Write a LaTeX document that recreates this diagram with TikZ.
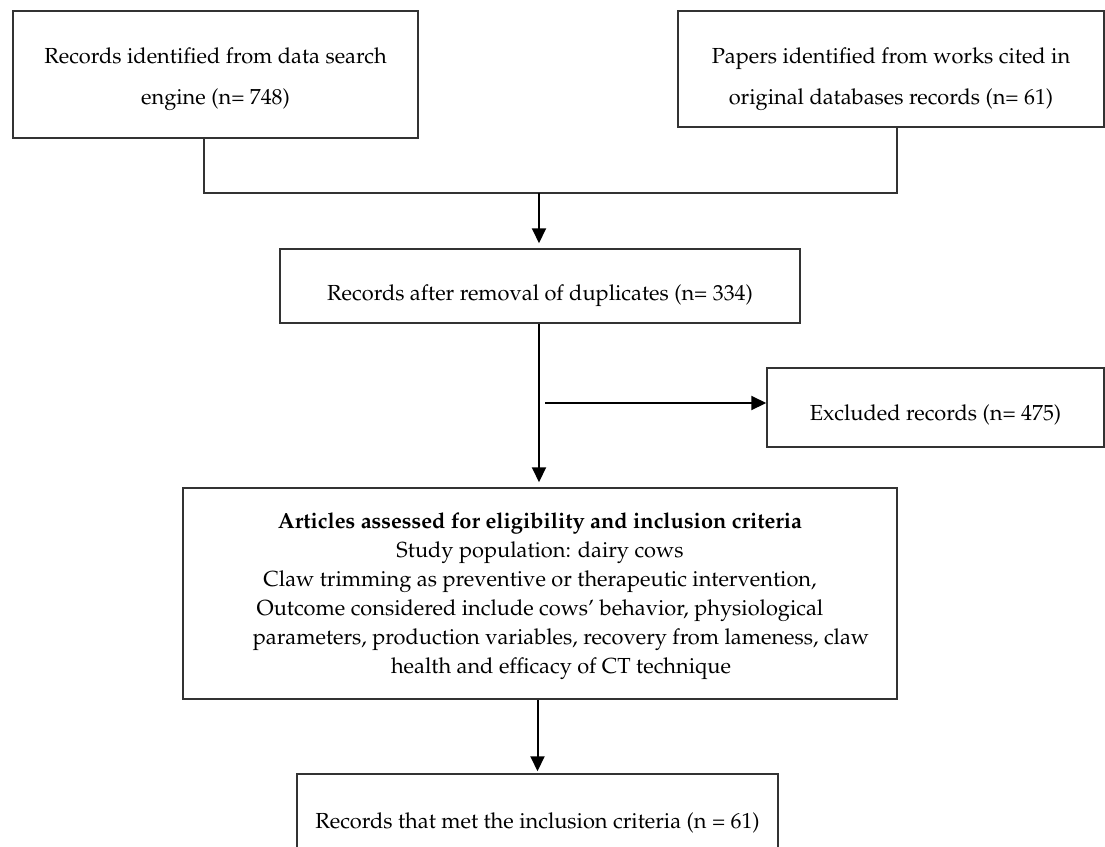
\documentclass[tikz,border=0pt]{standalone}
\usepackage[T1]{fontenc}
\usepackage{mathpazo}
\usetikzlibrary{arrows.meta}
\begin{document}
\begin{tikzpicture}[x=1pt,y=-1pt,
  box/.style={draw=black!80, line width=1.5pt, rectangle, inner sep=0pt},
  txt/.style={align=center, inner sep=0pt, font=\fontsize{21.8}{29}\selectfont},
  txtwide/.style={align=center, inner sep=0pt, font=\fontsize{21.8}{41}\selectfont},
  conn/.style={draw=black!80, line width=1.5pt},
  arr/.style={draw=black, line width=2pt, -{Triangle[length=15pt,width=14pt]}}]
\useasboundingbox (0,0) rectangle (1105,846);
\clip (0,0) rectangle (1105,846);

% boxes
\node[box, minimum width=405pt, minimum height=127pt] (A) at (215.5,74.5) {};
\node[box, minimum width=426pt, minimum height=116pt] (B) at (891,69) {};
\node[box, minimum width=520pt, minimum height=74pt] (C) at (540,286) {};
\node[box, minimum width=337pt, minimum height=79pt] (D) at (935.5,407.5) {};
\node[box, minimum width=714pt, minimum height=211pt] (E) at (540,593.5) {};
\node[box, minimum width=481pt, minimum height=110pt] (F) at (537.5,829) {};

% texts
\node[txtwide] (tA) at (215.5,79) {Records identified from data search\\engine (n= 748)};
\node[txtwide] (tB) at (891,79) {Papers identified from works cited in\\original databases records (n= 61)};
\node[txt] (tC) at (540,296) {Records after removal of duplicates (n= 334)};
\node[txt] (tD) at (935.5,415) {Excluded records (n= 475)};
\node[txt] (tE) at (540,596) {\textbf{Articles assessed for eligibility and inclusion criteria}\\
Study population: dairy cows\\
Claw trimming as preventive or therapeutic intervention,\\
Outcome considered include cows' behavior, physiological\\
\hspace*{42pt}parameters, production variables, recovery from lameness, claw\\
\hspace*{42pt}health and efficacy of CT technique};
\node[txt] (tF) at (537.5,823) {Records that met the inclusion criteria (n = 61)};

% connectors
\coordinate (j1) at (204,193);
\coordinate (j2) at (897,193);
\coordinate (m) at (539,193);
\coordinate (s) at (545,403);
\draw[conn] (A.south -| j1) -- (j1) -- (j2) -- (B.south -| j2);
\draw[arr, shorten >=5pt] (m) -- (C.north -| m);
\draw[arr, shorten >=5pt] (C.south -| m) -- (E.north -| m);
\draw[arr] (s) -- (D.west |- s);
\draw[arr, shorten >=2pt] (E.south -| F.north) -- (F.north);
\end{tikzpicture}
\end{document}
